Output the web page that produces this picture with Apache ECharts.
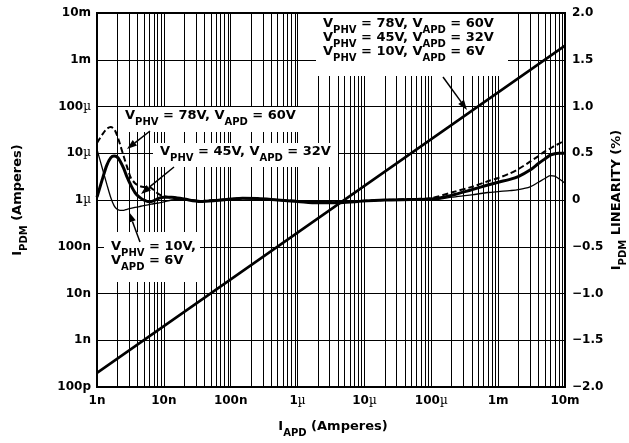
<!DOCTYPE html>
<html><head><meta charset="utf-8">
<script src="https://cdn.jsdelivr.net/npm/echarts@6/dist/echarts.min.js"></script>
<style>html,body{margin:0;padding:0;background:#fff}#c{width:629px;height:443px}</style>
</head><body><div id="c"></div>
<script>
// ---- data ----
const xTickLabels = ['1n','10n','100n','1µ','10µ','100µ','1m','10m'];
const leftTickLabels = ['100p','1n','10n','100n','1µ','10µ','100µ','1m','10m'];
const rightTickLabels = ['−2.0','−1.5','−1.0','−0.5','0','0.5','1.0','1.5','2.0'];

// transfer characteristic I_PDM vs I_APD (left log axis)
const transferIAPD = [1e-9, 1e-6, 1e-2];
const transferIPDM = [2e-10, 2e-7, 2e-3];

// linearity curves (right axis, %)
const iapd = [1e-9,1.2e-9,1.4e-9,1.6e-9,1.8e-9,2e-9,2.2e-9,2.5e-9,2.8e-9,3.2e-9,3.7e-9,4.3e-9,5e-9,6e-9,7e-9,8.5e-9,
  1e-8,1.3e-8,2e-8,3.5e-8,6e-8,1e-7,1.5e-7,2.5e-7,5e-7,1e-6,2e-6,4e-6,8e-6,2e-5,5e-5,
  1e-4,2e-4,4e-4,7e-4,1e-3,1.5e-3,2e-3,3e-3,4e-3,5e-3,6e-3,7e-3,8e-3,1e-2];
const lin78 = [0.61,0.70,0.76,0.78,0.76,0.69,0.60,0.47,0.36,0.24,0.18,0.15,0.14,0.14,0.11,0.06,
  0.04,0.025,0.01,-0.01,0.0,0.01,0.02,0.015,0.0,-0.01,-0.02,-0.02,-0.01,0.0,0.01,
  0.02,0.08,0.14,0.20,0.235,0.285,0.33,0.41,0.47,0.52,0.55,0.58,0.60,0.64];
const lin45 = [0.03,0.22,0.37,0.45,0.47,0.46,0.42,0.34,0.25,0.16,0.08,0.03,0.0,-0.02,-0.01,0.02,
  0.03,0.03,0.01,-0.015,-0.005,0.01,0.02,0.015,0.0,-0.015,-0.03,-0.03,-0.015,0.0,0.005,
  0.01,0.05,0.11,0.16,0.19,0.22,0.25,0.32,0.39,0.44,0.48,0.495,0.50,0.50];
const lin10 = [0.54,0.34,0.17,0.03,-0.06,-0.10,-0.11,-0.11,-0.10,-0.09,-0.08,-0.07,-0.06,-0.05,-0.04,-0.03,
  -0.02,0.0,0.01,-0.01,0.0,0.01,0.015,0.01,0.0,-0.01,-0.015,-0.02,-0.01,0.0,0.0,
  0.0,0.03,0.055,0.08,0.09,0.10,0.11,0.14,0.19,0.23,0.26,0.255,0.23,0.18];

// ---- chart ----
const FONT = 'DejaVu Sans';
const zip = (a, b) => a.map((v, i) => [v, b[i]]);
// minor log grid positions (2..9 within each decade)
const minorX = [];
for (let e = -9; e < -2; e++) for (let m = 2; m <= 9; m++) minorX.push([m * Math.pow(10, e), 1e-10, 1e-2]);

const tickRich = {
  b: { fontFamily: FONT, fontWeight: 'bold', fontSize: 12, color: '#000' },
  mu: { fontFamily: 'DejaVu Serif', fontWeight: 'normal', fontSize: 12, color: '#000' }
};
function fmtTick(s) {
  return s.indexOf('µ') >= 0 ? '{b|' + s.replace('µ', '') + '}{mu|µ}' : '{b|' + s + '}';
}

const chart = echarts.init(document.getElementById('c'), null, { renderer: 'canvas' });
const richTxt = {
  m: { fontFamily: FONT, fontWeight: 'bold', fontSize: 13, lineHeight: 14, verticalAlign: 'top', fill: '#000', color: '#000' },
  s: { fontFamily: FONT, fontWeight: 'bold', fontSize: 10, lineHeight: 10, verticalAlign: 'top', padding: [8, 0, 0, 0], fill: '#000', color: '#000' }
};
function lbl(v1, v2) { return '{m|V}{s|PHV}{m| = ' + v1 + ', V}{s|APD}{m| = ' + v2 + '}'; }

function arrow(x1, y1, x2, y2) {
  const ang = Math.atan2(y2 - y1, x2 - x1), L = 10, W = 3.5;
  const bx = x2 - L * Math.cos(ang), by = y2 - L * Math.sin(ang);
  const px = -Math.sin(ang) * W, py = Math.cos(ang) * W;
  return [
    { type: 'line', z: 120, shape: { x1: x1, y1: y1, x2: bx, y2: by }, style: { stroke: '#000', lineWidth: 1.5 } },
    { type: 'polygon', z: 120, shape: { points: [[x2, y2], [bx + px, by + py], [bx - px, by - py]] }, style: { fill: '#000' } }
  ];
}

const graphics = [
  { type: 'rect', z: 100, shape: { x: 316, y: 14, width: 192, height: 62 }, style: { fill: '#fff' } },
  { type: 'text', z: 110, x: 323, y: 17, style: { text: lbl('78V', '60V') + '\n' + lbl('45V', '32V') + '\n' + lbl('10V', '6V'), rich: richTxt } },
  { type: 'rect', z: 100, shape: { x: 119, y: 107, width: 184, height: 25 }, style: { fill: '#fff' } },
  { type: 'text', z: 110, x: 125, y: 109, style: { text: lbl('78V', '60V'), rich: richTxt } },
  { type: 'rect', z: 100, shape: { x: 153, y: 143, width: 185, height: 24 }, style: { fill: '#fff' } },
  { type: 'text', z: 110, x: 160, y: 145, style: { text: lbl('45V', '32V'), rich: richTxt } },
  { type: 'rect', z: 100, shape: { x: 104, y: 232, width: 96, height: 50 }, style: { fill: '#fff' } },
  { type: 'text', z: 110, x: 111, y: 240, style: { text: '{m|V}{s|PHV}{m| = 10V,}\n{m|V}{s|APD}{m| = 6V}', rich: richTxt } },
  { type: 'text', z: 110, x: 18, y: 200, rotation: Math.PI / 2, style: { text: '{m|I}{s|PDM}{m| (Amperes)}', rich: richTxt, align: 'center', verticalAlign: 'middle' } },
  { type: 'text', z: 110, x: 617, y: 200, rotation: Math.PI / 2, style: { text: '{m|I}{s|PDM}{m| LINEARITY (%)}', rich: richTxt, align: 'center', verticalAlign: 'middle' } },
  { type: 'text', z: 110, x: 333, y: 427, style: { text: '{m|I}{s|APD}{m| (Amperes)}', rich: richTxt, align: 'center', verticalAlign: 'middle' } }
].concat(arrow(443, 77, 467, 110), arrow(150, 131, 127, 149), arrow(174, 167, 141, 194), arrow(140, 242, 129, 212));

chart.setOption({
  animation: false,
  backgroundColor: '#fff',
  grid: { left: 97, right: 64, top: 13, bottom: 56, show: true, borderColor: '#000', borderWidth: 2, backgroundColor: 'transparent' },
  xAxis: {
    type: 'log', logBase: 10, min: 1e-9, max: 1e-2, interval: 1,
    axisLine: { show: false }, axisTick: { show: false },
    splitLine: { show: true, lineStyle: { color: '#000', width: 1 } },
    axisLabel: { margin: 8, formatter: v => fmtTick(xTickLabels[Math.round(Math.log10(v)) + 9]), rich: tickRich }
  },
  yAxis: [
    {
      type: 'log', logBase: 10, min: 1e-10, max: 1e-2, interval: 1, position: 'left',
      axisLine: { show: false }, axisTick: { show: false },
      splitLine: { show: true, lineStyle: { color: '#000', width: 1 } },
      axisLabel: { margin: 6, formatter: v => fmtTick(leftTickLabels[Math.round(Math.log10(v)) + 10]), rich: tickRich }
    },
    {
      type: 'value', min: -2, max: 2, interval: 0.5, position: 'right',
      axisLine: { show: false }, axisTick: { show: false }, splitLine: { show: false },
      axisLabel: { margin: 7, formatter: v => '{b|' + rightTickLabels[Math.round(v * 2) + 4] + '}', rich: tickRich }
    }
  ],
  graphic: graphics,
  series: [
    { type: 'custom', name: 'minorGrid', xAxisIndex: 0, yAxisIndex: 0, data: minorX, silent: true, z: 1,
      encode: { x: 0, y: [1, 2] },
      renderItem: function (params, api) {
        const p1 = api.coord([api.value(0), api.value(1)]);
        const p2 = api.coord([api.value(0), api.value(2)]);
        const x = Math.round(p1[0]) + 0.5;
        return { type: 'line', shape: { x1: x, y1: p1[1], x2: x, y2: p2[1] }, style: { stroke: '#000', lineWidth: 1 } };
      } },
    { type: 'line', name: 'transfer', yAxisIndex: 0, data: zip(transferIAPD, transferIPDM), showSymbol: false, symbol: 'none',
      lineStyle: { color: '#000', width: 2.6 }, z: 5 },
    { type: 'line', name: '78V/60V', yAxisIndex: 1, data: zip(iapd, lin78), symbol: 'none', smooth: 0.3,
      lineStyle: { color: '#000', width: 2, type: [6, 3] }, z: 5 },
    { type: 'line', name: '45V/32V', yAxisIndex: 1, data: zip(iapd, lin45), symbol: 'none', smooth: 0.3,
      lineStyle: { color: '#000', width: 3 }, z: 5 },
    { type: 'line', name: '10V/6V', yAxisIndex: 1, data: zip(iapd, lin10), symbol: 'none', smooth: 0.3,
      lineStyle: { color: '#000', width: 1.3 }, z: 5 }
  ]
});
</script>
</body></html>
